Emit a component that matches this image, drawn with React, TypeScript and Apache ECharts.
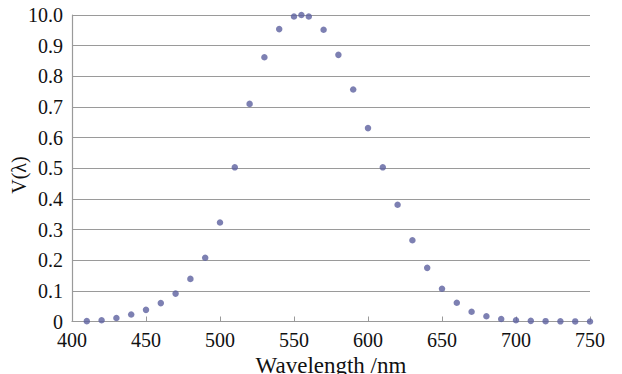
import React, { useEffect, useRef } from "react";
import * as echarts from "echarts";

const wavelengths = [410, 420, 430, 440, 450, 460, 470, 480, 490, 500, 510, 520, 530, 540, 550, 555, 560, 570, 580, 590, 600, 610, 620, 630, 640, 650, 660, 670, 680, 690, 700, 710, 720, 730, 740, 750];
const vValues = [0.0012, 0.004, 0.0116, 0.023, 0.038, 0.06, 0.091, 0.139, 0.208, 0.323, 0.503, 0.71, 0.862, 0.954, 0.995, 1.0, 0.995, 0.952, 0.87, 0.757, 0.631, 0.503, 0.381, 0.265, 0.175, 0.107, 0.061, 0.032, 0.017, 0.0082, 0.0041, 0.0021, 0.00105, 0.00052, 0.00025, 0.00012];
const yTickLabels = ["0", "0.1", "0.2", "0.3", "0.4", "0.5", "0.6", "0.7", "0.8", "0.9", "10.0"];
const xTickLabels = ["400", "450", "500", "550", "600", "650", "700", "750"];
const xTitle = "Wavelength /nm";
const yTitle = "V(λ)";

const FONT = "Liberation Serif";

export default function App() {
  const ref = useRef<HTMLDivElement>(null);
  useEffect(() => {
    document.body.style.margin = "0";
    const chart = echarts.init(ref.current!, null, { renderer: "svg" });
    chart.setOption({
      animation: false,
      backgroundColor: "#ffffff",
      textStyle: { fontFamily: FONT },
      grid: { left: 72, right: 32, top: 15, bottom: 52.5, containLabel: false, outerBoundsMode: "none" },
      graphic: [
        {
          type: "text",
          x: 19,
          y: 175,
          rotation: Math.PI / 2,
          style: {
            text: yTitle,
            font: "20px Liberation Serif",
            fill: "#111",
            textAlign: "center",
            textVerticalAlign: "middle",
          },
        },
      ],
      xAxis: {
        type: "value",
        min: 400,
        max: 750,
        interval: 50,
        name: xTitle,
        nameLocation: "middle",
        nameGap: 30,
        nameTextStyle: { fontFamily: FONT, fontSize: 23, lineHeight: 20, color: "#111" },
        axisLine: { show: true, lineStyle: { color: "#9a9a9a", width: 1.2 } },
        axisTick: { show: true, inside: true, length: 5, lineStyle: { color: "#9a9a9a" } },
        splitLine: { show: false },
        axisLabel: {
          fontFamily: FONT,
          fontSize: 20,
          lineHeight: 14,
          color: "#111",
          margin: 11,
          formatter: (v: number) => xTickLabels[Math.round((v - 400) / 50)] ?? String(v),
        },
      },
      yAxis: {
        type: "value",
        min: 0,
        max: 1,
        interval: 0.1,
        axisLine: { show: true, lineStyle: { color: "#9a9a9a", width: 1.2 } },
        axisTick: { show: false },
        splitLine: { show: true, lineStyle: { color: "#9a9a9a", width: 1.2 } },
        axisLabel: {
          fontFamily: FONT,
          fontSize: 20,
          lineHeight: 14,
          color: "#111",
          margin: 9,
          formatter: (v: number) => yTickLabels[Math.round(v * 10)] ?? String(v),
        },
      },
      series: [
        {
          type: "scatter",
          data: wavelengths.map((w, i) => [w, vValues[i]]),
          symbol: "circle",
          symbolSize: 6.5,
          itemStyle: { color: "#5d609f" },
        },
      ],
    });
    return () => chart.dispose();
  }, []);
  return <div ref={ref} style={{ width: 622, height: 374 }} />;
}
